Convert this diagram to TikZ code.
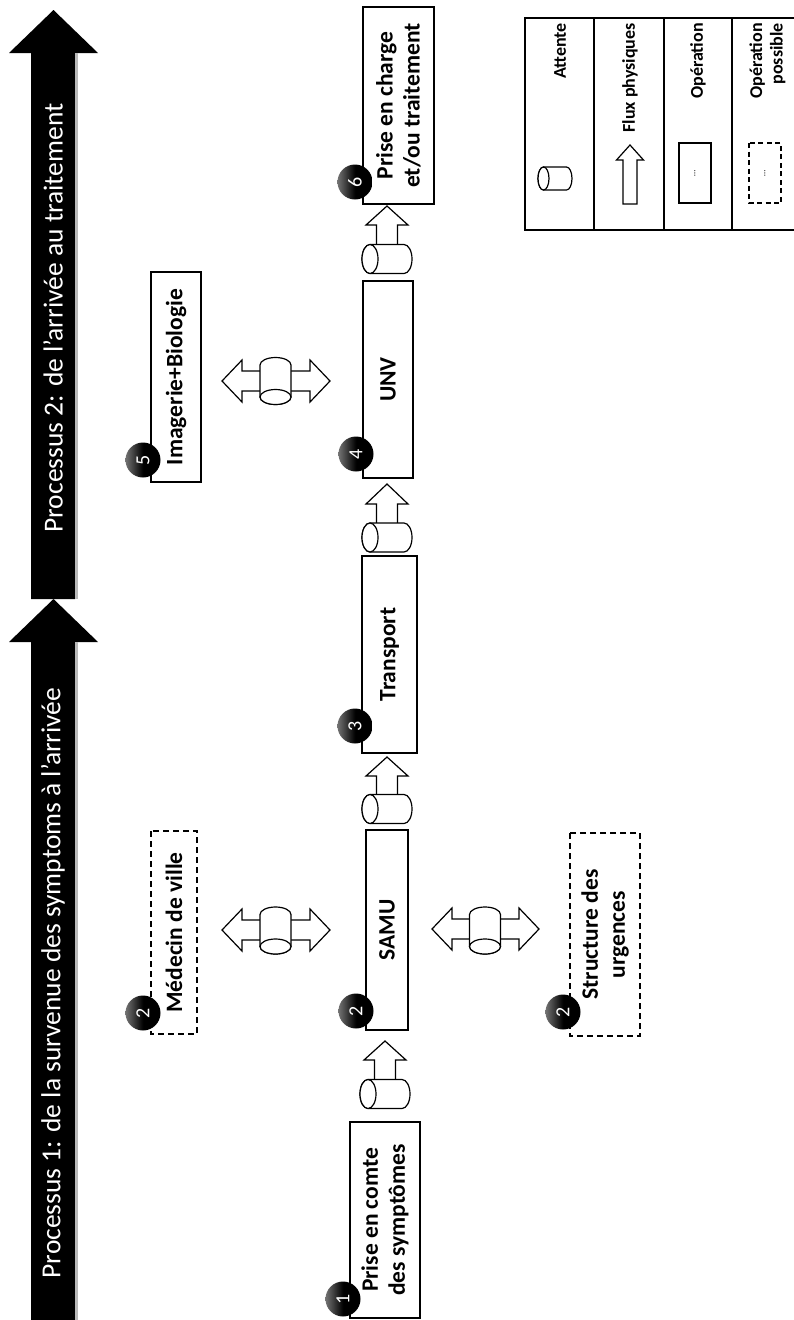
\documentclass[tikz,border=0pt]{standalone}
\usepackage{fontspec}
\setmainfont{Carlito}
\newcommand\mkflowup[6]{% cx, tip y, head base y, shaft bottom y, half head width, half shaft width
  \draw[flow] (#1,#2) -- (#1+#5,#3) -- (#1+#6,#3) -- (#1+#6,#4) -- (#1-#6,#4) -- (#1-#6,#3) -- (#1-#5,#3) -- cycle;}
\newcommand\mkflowlr[3]{% cy, left tip x, right tip x
  \draw[flow] (#2,#1) -- (#2+20,#1-21) -- (#2+20,#1-10) -- (#3-20,#1-10) -- (#3-20,#1-21) -- (#3,#1) -- (#3-20,#1+21) -- (#3-20,#1+10) -- (#2+20,#1+10) -- (#2+20,#1+21) -- cycle;}
\newcommand\mkcylH[5]{% cx, cy, half distance, ry, rx  (full ellipse on the left)
  \draw[flow] (#1-#3,#2-#4) -- (#1+#3,#2-#4) arc[start angle=-90,end angle=90,x radius=#5,y radius=#4] -- (#1-#3,#2+#4) arc[start angle=90,end angle=270,x radius=#5,y radius=#4] -- cycle;
  \draw[flow] (#1-#3,#2) ellipse[x radius=#5,y radius=#4];}
\newcommand\mkcylV[5]{% cx, cy, half distance, rx, ry  (full ellipse at the bottom)
  \draw[flow] (#1-#4,#2+#3) -- (#1-#4,#2-#3) arc[start angle=180,end angle=360,x radius=#4,y radius=#5] -- (#1+#4,#2+#3) arc[start angle=0,end angle=180,x radius=#4,y radius=#5] -- cycle;
  \draw[flow] (#1,#2+#3) ellipse[x radius=#4,y radius=#5];}
\begin{document}
\begin{tikzpicture}[x=1pt,y=-1pt,
  flow/.style={draw, line width=1.2pt, fill=white, line join=miter},
  opbox/.style={draw, line width=1.3pt, fill=white, rotate=90, inner sep=0pt, align=center, font=\bfseries\fontsize{23.5}{27}\selectfont},
  optbox/.style={opbox, dash pattern=on 6pt off 4pt},
  numc/.style={circle, inner sep=0pt, minimum size=35pt, text=white, rotate=90, left color=black!55, right color=black, middle color=black, font=\fontsize{20}{20}\selectfont},
  legtxt/.style={rotate=90, anchor=east, inner sep=0pt, align=right, font=\bfseries\fontsize{18}{20.5}\selectfont},
  bandtxt/.style={rotate=90, text=white, font=\fontsize{27.5}{33}\selectfont}
]
\useasboundingbox (0,0) rectangle (793,1320);

% process bands
\fill[black] (31,599) -- (31,53) -- (9,53) -- (53.5,10) -- (98,53) -- (75,53) -- (75,599) -- cycle;
\fill[gray!55] (75,53) rectangle (77.5,599);
\fill[black] (31,1330) -- (31,642) -- (9,642) -- (53.5,599) -- (98,642) -- (75,642) -- (75,1330) -- cycle;
\fill[gray!55] (75,642) rectangle (77.5,1330);
\node[bandtxt] (p2) at (53,318) {Processus 2: de l’arrivée au traitement};
\node[bandtxt] (p1) at (53,983) {Processus 1: de la survenue des symptoms à l’arrivée};

% main flow boxes
\node[opbox, minimum width=196pt, minimum height=70pt] (b1) at (385,1220) {Prise en comte\\des symptômes};
\node[opbox, minimum width=200pt, minimum height=42pt] (samu) at (387,930) {SAMU};
\node[opbox, minimum width=197pt, minimum height=55pt] (transport) at (389.5,654.5) {Transport};
\node[opbox, minimum width=197pt, minimum height=50pt] (unv) at (388,379.5) {UNV};
\node[opbox, minimum width=197pt, minimum height=71pt] (b6) at (398.5,105.5) {Prise en charge\\et/ou traitement};
\node[opbox, minimum width=210pt, minimum height=50pt] (imag) at (176,377) {Imagerie+Biologie};
\node[optbox, minimum width=203pt, minimum height=46pt] (med) at (174,932.5) {Médecin de ville};
\node[optbox, minimum width=203pt, minimum height=70pt] (struct) at (605,934.5) {Structure des\\urgences};

% flows along the main line
\mkflowup{385}{1041}{1060}{1085}{21}{10.5}
\mkcylH{385}{1094}{17}{14.5}{8}
\mkflowup{387}{757}{776}{801}{21}{10.5}
\mkcylH{387}{809}{17}{14.5}{8}
\mkflowup{387}{484}{504}{529}{21}{10.5}
\mkcylH{387}{537.5}{17}{14.5}{8}
\mkflowup{387}{206}{225}{251}{21}{10.5}
\mkcylH{387}{259}{17}{14.5}{8}

% side exchanges
\mkflowlr{930}{222}{330}
\mkcylV{275.5}{930.5}{16}{15.5}{7.5}
\mkflowlr{929}{432}{539}
\mkcylV{485}{930.5}{16}{15.5}{7.5}
\mkflowlr{381}{222}{330}
\mkcylV{275.5}{381}{16}{15.5}{7.5}

% numbers
\node[numc] (n1) at (343,1299) {1};
\node[numc] (n2) at (356,1011) {2};
\node[numc] (n3) at (355,726) {3};
\node[numc] (n4) at (356,454) {4};
\node[numc] (n6) at (355,182) {6};
\node[numc] (n5) at (143,460) {5};
\node[numc] (n2m) at (143,1013) {2};
\node[numc] (n2s) at (563,1012) {2};

% legend
\draw[line width=1.3pt] (800,18) -- (525,18) -- (525,230) -- (800,230);
\draw[line width=1.3pt] (594,18) -- (594,230) (664,18) -- (664,230) (732,18) -- (732,230);
\node[legtxt] (l1) at (560,23) {Attente};
\node[legtxt] (l2) at (630,23) {Flux physiques};
\node[legtxt] (l3) at (698,23) {Opération};
\node[legtxt] (l4) at (767.5,23) {Opération\\possible};
\mkcylH{555}{178.5}{11.5}{11.5}{5.5}
\mkflowup{630}{145}{160}{204}{13.5}{7}
\node[draw, line width=1.2pt, rotate=90, minimum width=60pt, minimum height=32pt, inner sep=0pt, font=\fontsize{9}{9}\selectfont] (lop) at (695,173) {…};
\node[draw, line width=1.2pt, dash pattern=on 5pt off 3.5pt, rotate=90, minimum width=60pt, minimum height=32pt, inner sep=0pt, font=\fontsize{9}{9}\selectfont] (lopp) at (765,173) {…};
\end{tikzpicture}
\end{document}
